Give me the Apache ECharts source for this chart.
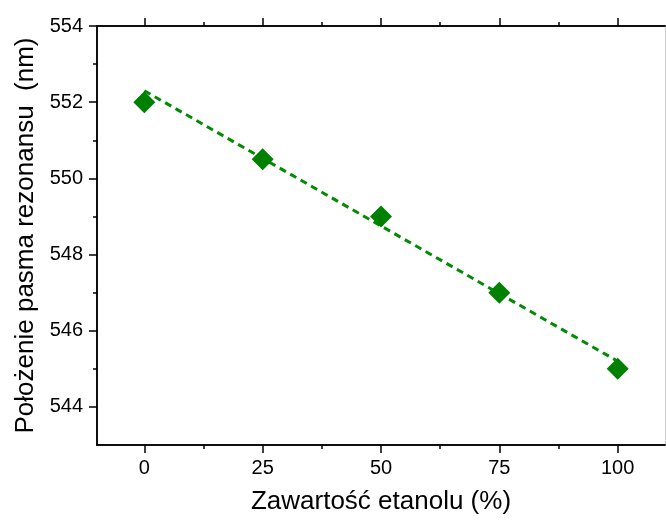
<!DOCTYPE html>
<html><head><meta charset="utf-8">
<script src="https://cdn.jsdelivr.net/npm/echarts@6/dist/echarts.min.js"></script>
<style>html,body{margin:0;padding:0;background:#fff}#c{width:666px;height:522px}</style>
</head><body><div id="c"></div>
<script>
const ethanol = [0, 25, 50, 75, 100];
const resonance = [552, 550.5, 549, 547, 545];
const fitX = [0, 100];
const fitY = [552.3, 545.2];
const xMajor = [0, 25, 50, 75, 100];
const xMinor = [12.5, 37.5, 62.5, 87.5];
const yMajor = [544, 546, 548, 550, 552, 554];
const yMinor = [545, 547, 549, 551, 553];
const xTitle = 'Zawartość etanolu (%)';
const yTitle = 'Położenie pasma rezonansu  (nm)';

const FONT = '"Liberation Sans", Arial, sans-serif';
const X = {min: -10, max: 110};
const Y = {min: 543, max: 554};
const G = {left: 97, right: 1, top: 26, bottom: 77, containLabel: false};
function ax(rng, gi, pos, ticks, len, labels, extra, lineColor) {
  return Object.assign({
    type: 'value', gridIndex: gi, position: pos, min: rng.min, max: rng.max,
    axisLine: {show: true, onZero: false, lineStyle: {color: lineColor || '#000', width: 1.5}},
    axisTick: {show: ticks.length > 0, inside: false, length: len, customValues: ticks, lineStyle: {color: '#000', width: 1.5}},
    axisLabel: labels ? {show: true, customValues: ticks, color: '#000', fontSize: 20, fontFamily: FONT, margin: labels} : {show: false},
    splitLine: {show: false}
  }, extra || {});
}
const chart = echarts.init(document.getElementById('c'), null, {renderer: 'canvas'});
chart.setOption({
  animation: false,
  backgroundColor: '#fff',
  grid: [G, G, G, G],
  xAxis: [
    ax(X, 0, 'bottom', xMajor, 8, 13, {name: xTitle, nameLocation: 'middle', nameGap: 44,
      nameTextStyle: {color: '#000', fontSize: 26, fontFamily: FONT}}),
    ax(X, 1, 'bottom', xMinor, 4, 0),
    ax(X, 2, 'top', xMajor, 8, 0),
    ax(X, 3, 'top', xMinor, 4, 0)
  ],
  yAxis: [
    ax(Y, 0, 'left', yMajor, 8, 14, {name: yTitle, nameLocation: 'middle', nameGap: 57, nameRotate: 90,
      nameTextStyle: {color: '#000', fontSize: 26, fontFamily: FONT}}),
    ax(Y, 1, 'left', yMinor, 4, 0),
    ax(Y, 2, 'right', [], 0, 0, {axisLine: {show: true, onZero: false, lineStyle: {color: '#cfcfcf', width: 1}}}),
    ax(Y, 3, 'right', [], 0, 0, {show: false})
  ],
  series: [
    {type: 'line', xAxisIndex: 0, yAxisIndex: 0, data: fitX.map((x, i) => [x, fitY[i]]),
      symbol: 'none', z: 2, lineStyle: {color: '#008c00', width: 3, type: [7, 5]}},
    {type: 'scatter', xAxisIndex: 0, yAxisIndex: 0, data: ethanol.map((x, i) => [x, resonance[i]]),
      symbol: 'diamond', symbolSize: 22, z: 3, itemStyle: {color: '#008000', opacity: 1}}
  ]
});
</script></body></html>
